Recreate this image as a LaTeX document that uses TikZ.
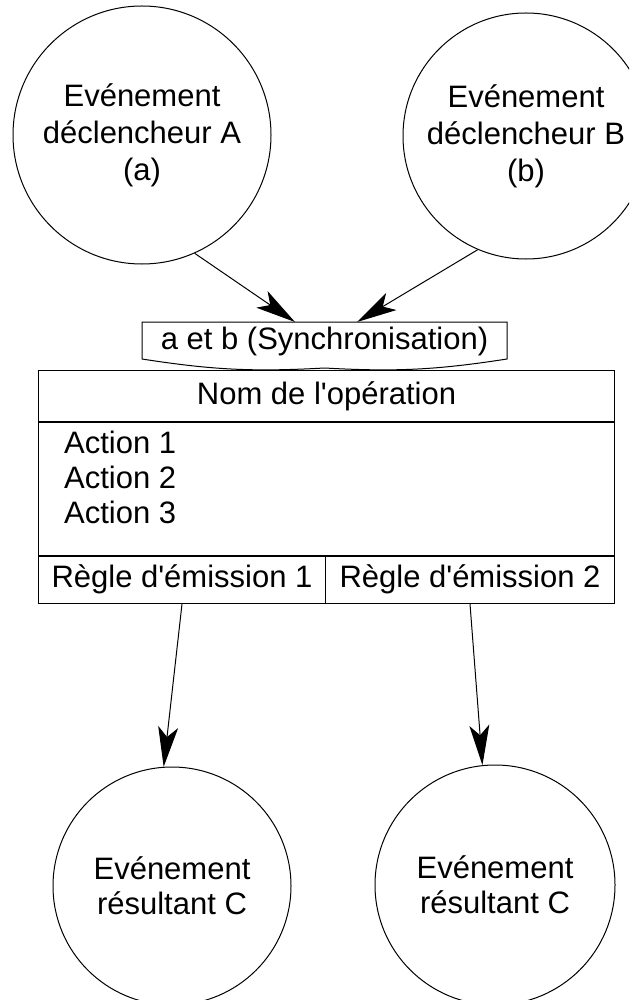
\documentclass[tikz,border=0pt]{standalone}
\usepackage{fontspec}
\setmainfont{Liberation Sans}
\usetikzlibrary{arrows.meta}
\begin{document}
\begin{tikzpicture}[x=1pt,y=-1pt,
  evt/.style={draw, circle, line width=1pt, inner sep=0pt, align=center, font=\fontsize{31}{37}\selectfont},
  cell/.style={draw, line width=1pt, inner sep=0pt, font=\fontsize{31}{37}\selectfont},
  txt/.style={inner sep=0pt, font=\fontsize{31}{37}\selectfont},
  arr/.style={line width=1pt, -{Stealth[length=40pt,width=20pt,inset=10pt]}}
]
\useasboundingbox (0,0) rectangle (629,1000);
\clip (0,0) rectangle (629,1000);
% events
\node[evt, minimum size=258pt] (A) at (142,135) {Evénement\\déclencheur A\\(a)};
\node[evt, minimum size=246pt] (B) at (526,136) {Evénement\\déclencheur B\\(b)};
% synchronisation
\node[txt] (sync) at (324.5,341) {a et b (Synchronisation)};
\draw[line width=1pt] (142,322) -- (507,322) -- (507,359) to[bend left=6] (324.5,368) to[bend left=6] (142,359) -- cycle;
\coordinate (sa) at (295,322);
\coordinate (sb) at (357,322);
\draw[arr] (A.-66) -- (sa);
\draw[arr] (B.-113) -- (sb);
% operation box
\node[cell, minimum width=576pt, minimum height=51pt, anchor=north west] (title) at (38,370) {Nom de l\textquotesingle opération};
\node[cell, minimum width=576pt, minimum height=134pt, anchor=north] (act) at (title.south) {};
\node[txt, anchor=north west, align=left, font=\fontsize{31}{35}\selectfont] (acts) at (64,431) {Action 1\\Action 2\\Action 3};
\node[cell, minimum width=287pt, minimum height=48pt, anchor=north west] (r1) at (38,555) {Règle d\textquotesingle émission 1};
\node[cell, minimum width=289pt, minimum height=48pt, anchor=north west] (r2) at (325,555) {Règle d\textquotesingle émission 2};
% results
\node[evt, minimum size=238pt, font=\fontsize{31}{35}\selectfont] (C1) at (172,886) {Evénement\\résultant C};
\node[evt, minimum size=240pt, font=\fontsize{31}{35}\selectfont] (C2) at (495,885) {Evénement\\résultant C};
\draw[arr] (r1.south) -- (C1.94);
\draw[arr] (r2.south) -- (C2.96);
\end{tikzpicture}
\end{document}
